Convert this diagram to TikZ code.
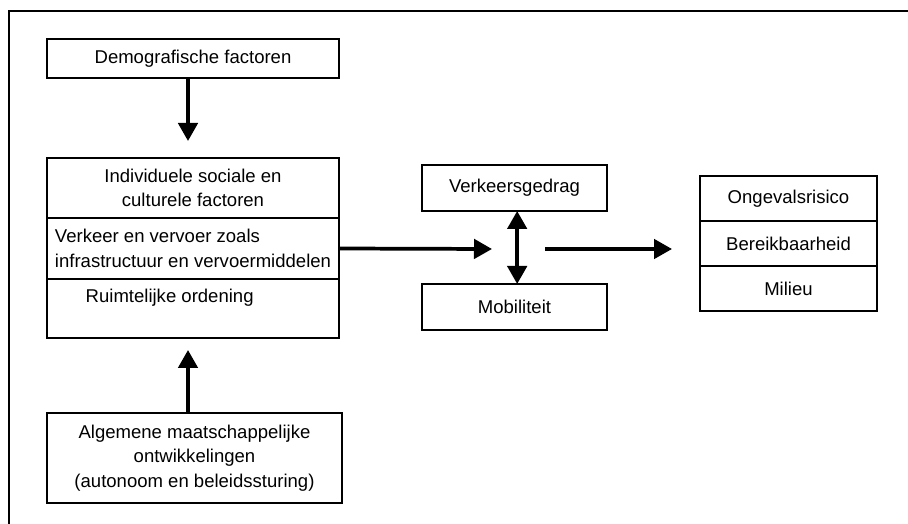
\documentclass[tikz,border=0pt]{standalone}
\usepackage{fontspec}
\setmainfont{Liberation Sans}
\usetikzlibrary{arrows.meta,positioning}

\begin{document}
\begin{tikzpicture}[x=0.75pt,y=-0.75pt,
    font=\fontsize{13.9}{18.5}\selectfont,
    box/.style={draw,line width=0.8pt,outer sep=0pt,inner sep=2pt,align=center},
    arr/.style={line width=2.8pt,-{Triangle[length=13.5pt,width=14.5pt]}},
    dblarr/.style={line width=2.8pt,{Triangle[length=13.5pt,width=14.5pt]}-{Triangle[length=13.5pt,width=14.5pt]}}]
    \useasboundingbox (0,0) rectangle (908,524);
    \draw[line width=2pt] (9,524) -- (9,11) -- (908,11);
%
    \node[box,minimum width=219pt,minimum height=29.25pt] (demo) at (193,58.5)
        {Demografische factoren};
    \node[box,minimum width=219pt,minimum height=45pt] (indiv) at (193,188)
        {Individuele sociale en\\culturele factoren};
    \node[box,minimum width=219pt,minimum height=45.75pt,align=left,below=0pt of indiv] (verkeer)
        {Verkeer en vervoer zoals\\infrastructuur en vervoermiddelen};
    \node[box,minimum width=219pt,minimum height=44.25pt,below=0pt of verkeer] (ruimte) {};
    \node[anchor=west] (ruimtetxt) at (81,298) {Ruimtelijke ordening};
    \node[box,minimum width=221.25pt,minimum height=67.5pt] (alg) at (194.5,458)
        {Algemene maatschappelijke\\ontwikkelingen\\(autonoom en beleidssturing)};
%
    \coordinate (t1) at (188,141);
    \draw[arr] (demo.south -| t1) -- (t1);
    \coordinate (t2) at (188,350);
    \draw[arr] (alg.north -| t2) -- (t2);
    \coordinate (t3) at (492,249);
    \draw[arr] (verkeer.east) -- (t3);
%
    \node[box,minimum width=138.75pt,minimum height=34.5pt] (gedrag) at (514.5,188) {Verkeersgedrag};
    \node[box,minimum width=138.75pt,minimum height=34.5pt] (mobil) at (514.5,307) {Mobiliteit};
    \draw[dblarr] ([xshift=2pt]gedrag.south) -- ([xshift=2pt]mobil.north);
    \coordinate (s4) at (545,249);
    \coordinate (t4) at (672,249);
    \draw[arr] (s4) -- (t4);
%
    \node[box,minimum width=132.75pt,minimum height=33.75pt] (risico) at (788.5,198.5) {Ongevalsrisico};
    \node[box,minimum width=132.75pt,minimum height=33.75pt,below=0pt of risico] (bereik) {Bereikbaarheid};
    \node[box,minimum width=132.75pt,minimum height=33.75pt,below=0pt of bereik] (milieu) {Milieu};
\end{tikzpicture}
\end{document}
